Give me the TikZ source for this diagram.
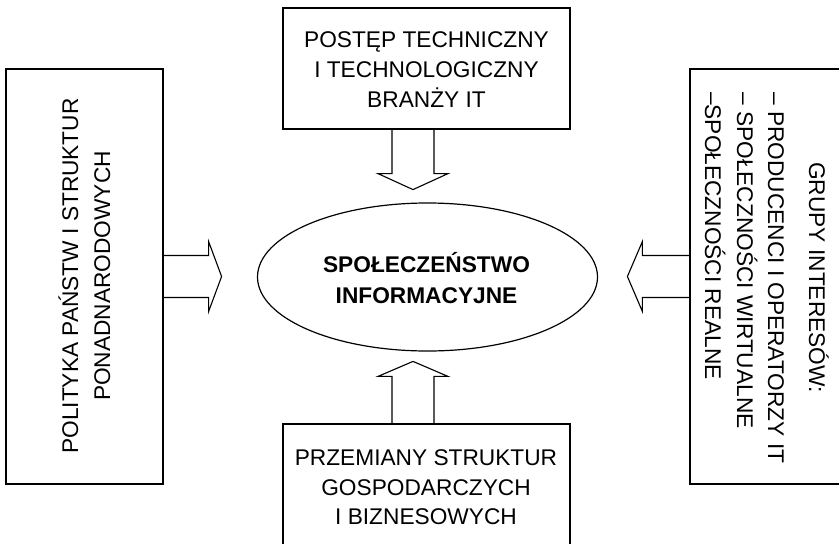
\documentclass[tikz,border=0pt]{standalone}
\usepackage{fontspec}
\setmainfont{Liberation Sans}
\usetikzlibrary{calc,shapes.geometric}
\begin{document}
\begin{tikzpicture}[x=1pt,y=-1pt,
  box/.style={draw, line width=1.2pt, inner sep=0pt},
  txt/.style={font=\fontsize{22.7}{30}\selectfont, inner sep=0pt, anchor=base},
  btxt/.style={txt, font=\fontsize{22.7}{30}\selectfont\bfseries},
  barrow/.style={draw, line width=1.1pt, line join=miter}]
\useasboundingbox (0,0) rectangle (839,544);
\clip (0,0) rectangle (839,544);
% boxes
\node[box, minimum width=157pt, minimum height=415pt] (L) at (84.5,276.5) {};
\node[box, minimum width=287pt, minimum height=121pt] (T) at (426.5,68.5) {};
\node[box, minimum width=180pt, minimum height=415pt] (R) at (780,276.5) {};
\node[box, minimum width=287pt, minimum height=140pt] (B) at (426.5,494) {};
\node[box, ellipse, minimum width=340pt, minimum height=148pt] (E) at (427.5,277) {};
% texts
\node[txt] (t1) at (426.5,47) {POSTĘP TECHNICZNY};
\node[txt] (t2) at (426.5,77) {I TECHNOLOGICZNY};
\node[txt] (t3) at (426.5,107) {BRANŻY IT};
\node[btxt] (e1) at (426.5,272) {SPOŁECZEŃSTWO};
\node[btxt] (e2) at (426.5,303) {INFORMACYJNE};
\node[txt] (b1) at (426,465) {PRZEMIANY STRUKTUR};
\node[txt] (b2) at (426,495.5) {GOSPODARCZYCH};
\node[txt] (b3) at (426,524) {I BIZNESOWYCH};
\node[txt, rotate=90] (l1) at (78,276) {POLITYKA PAŃSTW I STRUKTUR};
\node[txt, rotate=90] (l2) at (110,276) {PONADNARODOWYCH};
\node[txt, rotate=-90] (r0) at (809,277.5) {GRUPY INTERESÓW:};
\node[txt, rotate=-90, anchor=base west] (r1) at (768,92) {– PRODUCENCI I OPERATORZY IT};
\node[txt, rotate=-90, anchor=base west] (r2) at (737,92) {– SPOŁECZNOŚCI WIRTUALNE};
\node[txt, rotate=-90, anchor=base west] (r3) at (705,92) {–SPOŁECZNOŚCI REALNE};
% block arrows
\coordinate (ta) at ($(T.south)+(-13.5,0)$);
\draw[barrow] ($(ta)+(-21,0)$) -- ($(ta)+(-21,44)$) -- ($(ta)+(-35,44)$) -- ($(ta)+(0,60)$) -- ($(ta)+(35,44)$) -- ($(ta)+(21,44)$) -- ($(ta)+(21,0)$);
\coordinate (ba) at ($(B.north)+(-13.5,0)$);
\draw[barrow] ($(ba)+(-21,0)$) -- ($(ba)+(-21,-47)$) -- ($(ba)+(-35,-47)$) -- ($(ba)+(0,-62)$) -- ($(ba)+(35,-47)$) -- ($(ba)+(21,-47)$) -- ($(ba)+(21,0)$);
\coordinate (la) at (L.east);
\draw[barrow] ($(la)+(0,-21)$) -- ($(la)+(45,-21)$) -- ($(la)+(45,-35)$) -- ($(la)+(58,0)$) -- ($(la)+(45,35)$) -- ($(la)+(45,21)$) -- ($(la)+(0,21)$);
\coordinate (ra) at (R.west);
\draw[barrow] ($(ra)+(0,-21)$) -- ($(ra)+(-47,-21)$) -- ($(ra)+(-47,-35)$) -- ($(ra)+(-62,0)$) -- ($(ra)+(-47,35)$) -- ($(ra)+(-47,21)$) -- ($(ra)+(0,21)$);
\end{tikzpicture}
\end{document}
